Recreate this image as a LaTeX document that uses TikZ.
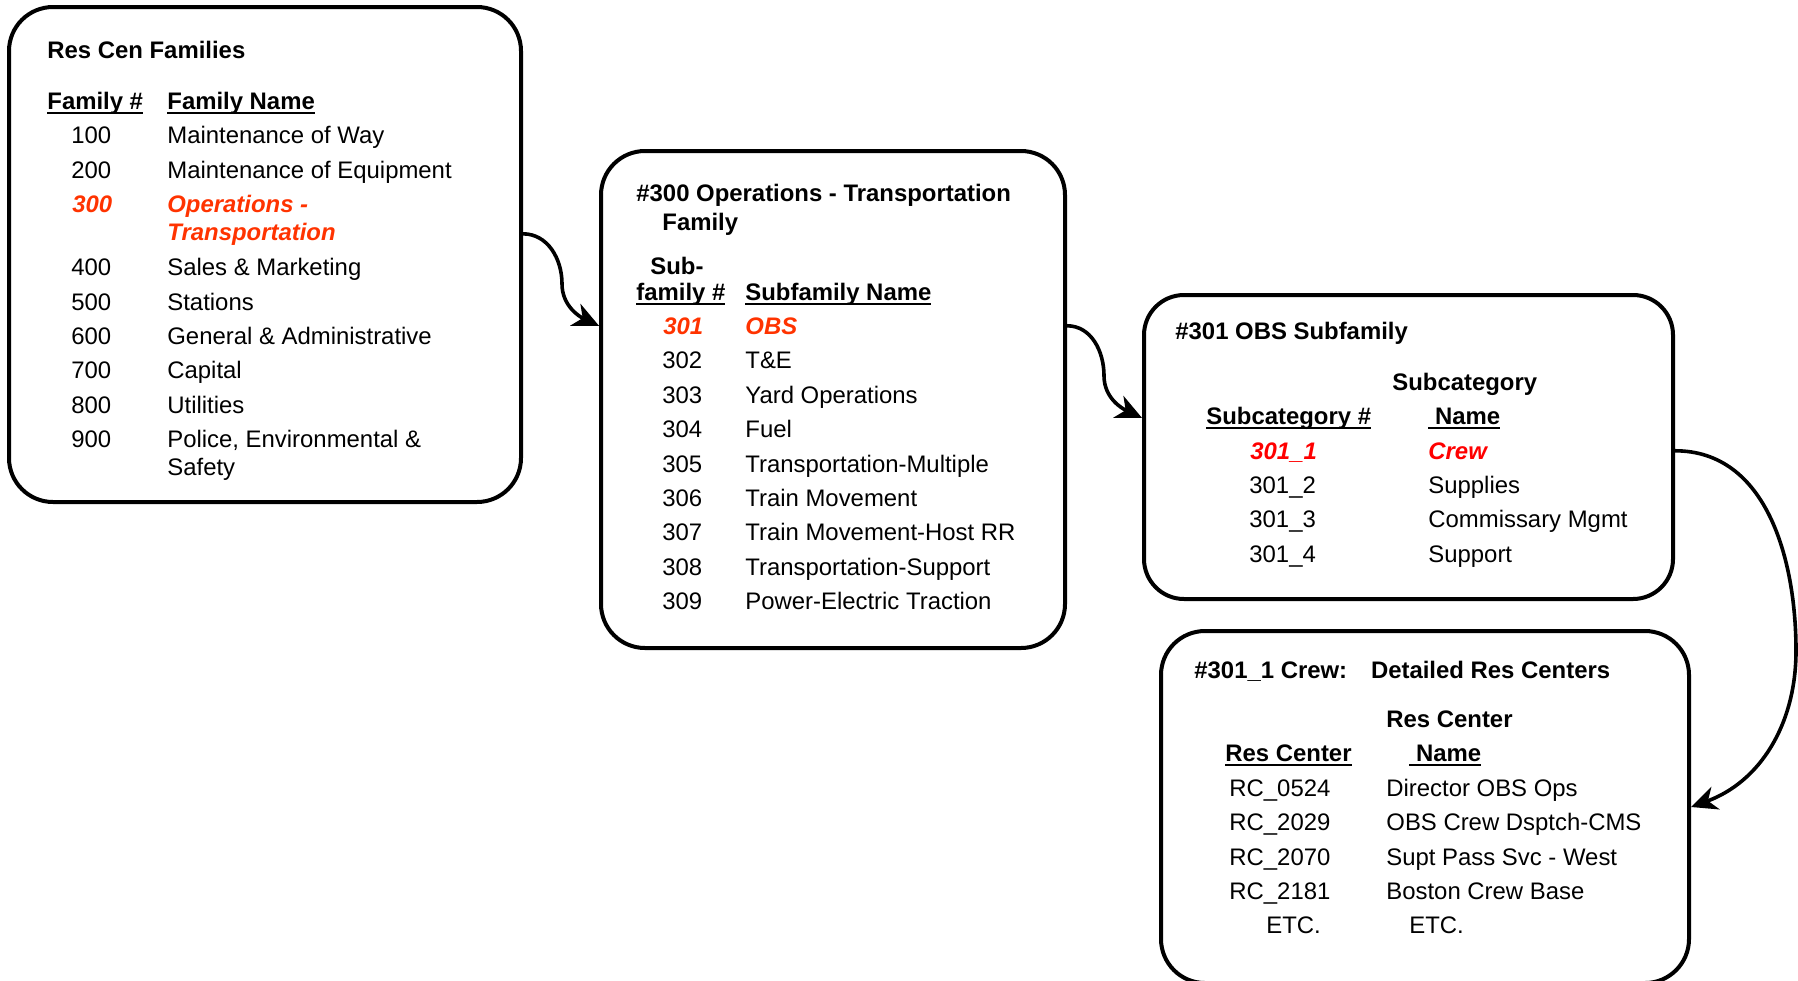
\documentclass[tikz,border=0pt]{standalone}
\usepackage{fontspec}
\setmainfont{Liberation Sans}
\usepackage{tikz}
\usetikzlibrary{arrows.meta,positioning}
\definecolor{opsred}{RGB}{255,51,0}
\definecolor{crewred}{RGB}{255,0,0}
\newcommand{\colhead}[1]{\setbox0\hbox{#1}\rlap{\rule[-2.5pt]{\wd0}{1.1pt}}\box0}

\begin{document}
\begin{tikzpicture}[x=0.5pt,y=0.5pt,
	box/.style={draw,line width=2pt,rounded corners=22pt,inner sep=0pt},
	txt/.style={anchor=base west,inner sep=0pt,font=\fontsize{11.95}{14}\selectfont},
	hd/.style={txt,font=\fontsize{11.95}{14}\selectfont\bfseries},
	hot/.style={txt,font=\fontsize{11.95}{14}\selectfont\bfseries\itshape,text=opsred},
	crew/.style={hot,text=crewred},
	link/.style={line width=1.8pt,-{Stealth[length=13pt,width=12pt,inset=4pt]}}]
		\useasboundingbox (0,0) rectangle (1798,-980);
		% boxes
		\node [box,minimum width=256pt,minimum height=247.5pt](fam_box) at (265,-254.5) {};
		\node [box,minimum width=232pt,minimum height=248.5pt](sub_box) at (833,-399.5) {};
		\node [box,minimum width=264.5pt,minimum height=152pt,rounded corners=20pt](obs_box) at (1408.5,-447) {};
		\node [box,minimum width=264pt,minimum height=176pt](rc_box) at (1425,-807) {};
		% res cen families
		\node [hd](fam_title) at (47,-58) {Res Cen Families};
		\node [hd](fam_hd_no) at (47,-109) {\colhead{Family \#}};
		\node [hd](fam_hd_name) at (167,-109) {\colhead{Family Name}};
		\node [txt](f100_no) at (71,-143) {100};
		\node [txt](f100_name) at (167,-143) {Maintenance of Way};
		\node [txt](f200_no) at (71,-178) {200};
		\node [txt](f200_name) at (167,-178) {Maintenance of Equipment};
		\node [hot](f300_no) at (72,-212) {300};
		\node [hot](f300_name) at (167,-212) {Operations -};
		\node [hot](f300_name2) at (167,-240) {Transportation};
		\node [txt](f400_no) at (71,-275) {400};
		\node [txt](f400_name) at (167,-275) {Sales \& Marketing};
		\node [txt](f500_no) at (71,-310) {500};
		\node [txt](f500_name) at (167,-310) {Stations};
		\node [txt](f600_no) at (71,-344) {600};
		\node [txt](f600_name) at (167,-344) {General \& Administrative};
		\node [txt](f700_no) at (71,-378) {700};
		\node [txt](f700_name) at (167,-378) {Capital};
		\node [txt](f800_no) at (71,-413) {800};
		\node [txt](f800_name) at (167,-413) {Utilities};
		\node [txt](f900_no) at (71,-447) {900};
		\node [txt](f900_name) at (167,-447) {Police, Environmental \&};
		\node [txt](f900_name2) at (167,-475) {Safety};
		% #300 subfamilies
		\node [hd](sub_title) at (636,-201) {\#300 Operations - Transportation};
		\node [hd](sub_title2) at (662,-230) {Family};
		\node [hd](sub_hd_top) at (650,-274) {Sub-};
		\node [hd](sub_hd_no) at (636,-300) {\colhead{family \#}};
		\node [hd](sub_hd_name) at (745,-300) {\colhead{Subfamily Name}};
		\node [hot](s301_no) at (663,-334) {301};
		\node [hot](s301_name) at (745,-334) {OBS};
		\node [txt](s302_no) at (662,-368) {302};
		\node [txt](s302_name) at (745,-368) {T\&E};
		\node [txt](s303_no) at (662,-403) {303};
		\node [txt](s303_name) at (745,-403) {Yard Operations};
		\node [txt](s304_no) at (662,-437) {304};
		\node [txt](s304_name) at (745,-437) {Fuel};
		\node [txt](s305_no) at (662,-472) {305};
		\node [txt](s305_name) at (745,-472) {Transportation-Multiple};
		\node [txt](s306_no) at (662,-506) {306};
		\node [txt](s306_name) at (745,-506) {Train Movement};
		\node [txt](s307_no) at (662,-540) {307};
		\node [txt](s307_name) at (745,-540) {Train Movement-Host RR};
		\node [txt](s308_no) at (662,-575) {308};
		\node [txt](s308_name) at (745,-575) {Transportation-Support};
		\node [txt](s309_no) at (662,-609) {309};
		\node [txt](s309_name) at (745,-609) {Power-Electric Traction};
		% #301 obs subcategories
		\node [hd](obs_title) at (1175,-339) {\#301 OBS Subfamily};
		\node [hd](obs_hd_top) at (1392,-390) {Subcategory};
		\node [hd](obs_hd_no) at (1206,-424) {\colhead{Subcategory \#}};
		\node [hd](obs_hd_name) at (1428,-424) {\colhead{\ Name}};
		\node [crew](c301_1_no) at (1250,-459) {301\_1};
		\node [crew](c301_1_name) at (1428,-459) {Crew};
		\node [txt](c301_2_no) at (1249,-493) {301\_2};
		\node [txt](c301_2_name) at (1428,-493) {Supplies};
		\node [txt](c301_3_no) at (1249,-527) {301\_3};
		\node [txt](c301_3_name) at (1428,-527) {Commissary Mgmt};
		\node [txt](c301_4_no) at (1249,-562) {301\_4};
		\node [txt](c301_4_name) at (1428,-562) {Support};
		% #301_1 crew res centers
		\node [hd](rc_title) at (1194,-678) {\#301\_1 Crew:\hspace{1em}Detailed Res Centers};
		\node [hd](rc_hd_top) at (1386,-727) {Res Center};
		\node [hd](rc_hd_no) at (1225,-761) {\colhead{Res Center}};
		\node [hd](rc_hd_name) at (1409,-761) {\colhead{\ Name}};
		\node [txt](rc0524_no) at (1229,-796) {RC\_0524};
		\node [txt](rc0524_name) at (1386,-796) {Director OBS Ops};
		\node [txt](rc2029_no) at (1229,-830) {RC\_2029};
		\node [txt](rc2029_name) at (1386,-830) {OBS Crew Dsptch-CMS};
		\node [txt](rc2070_no) at (1229,-865) {RC\_2070};
		\node [txt](rc2070_name) at (1386,-865) {Supt Pass Svc - West};
		\node [txt](rc2181_no) at (1229,-899) {RC\_2181};
		\node [txt](rc2181_name) at (1386,-899) {Boston Crew Base};
		\node [txt](etc_no) at (1266,-933) {ETC.};
		\node [txt](etc_name) at (1409,-933) {ETC.};
		% links
		\draw [link] (fam_box.east |- f300_name2) to [out=0,in=90] ++(39,-50) to [out=-90,in=155] (sub_box.west |- s301_no);
		\draw [link] (sub_box.east |- s301_name) to [out=0,in=90] ++(37,-50) to [out=-90,in=155] (obs_box.west |- obs_hd_no);
		\draw [link] (obs_box.east |- c301_1_name) to [out=0,in=90] ++(121,-200) to [out=-90,in=20] (rc_box.east);
\end{tikzpicture}
\end{document}
